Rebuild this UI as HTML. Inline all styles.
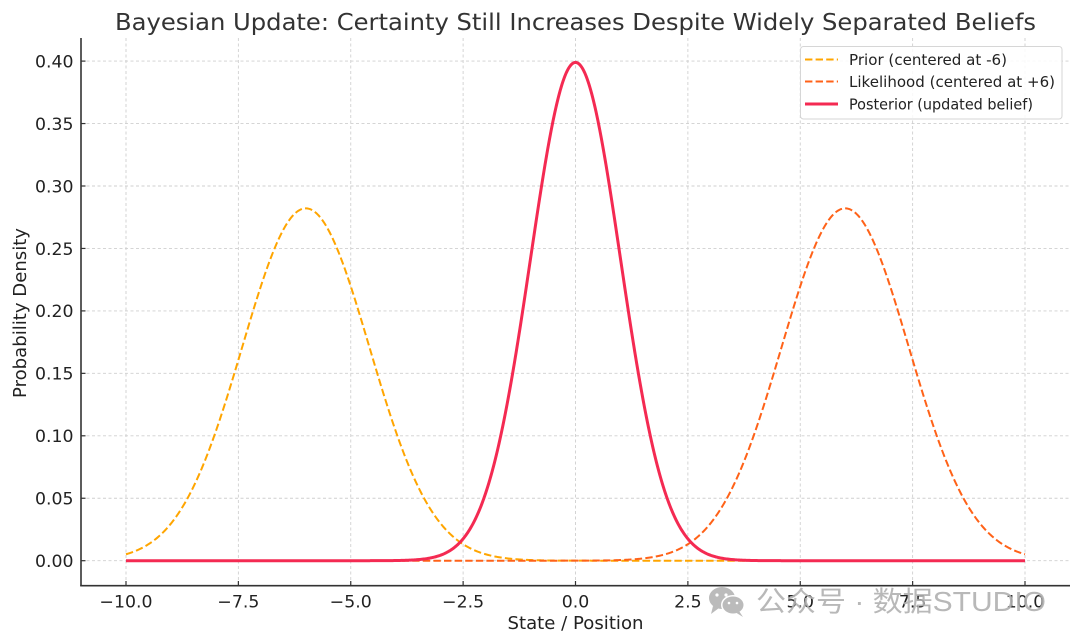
<!DOCTYPE html>
<html><head><meta charset="utf-8"><style>
html,body{margin:0;padding:0;background:#fff;}
svg{display:block;}
text{font-family:"DejaVu Sans","Liberation Sans","Noto Sans CJK SC",sans-serif;}
</style></head><body>
<svg id="s" width="1080" height="644" viewBox="0 0 1080 644" xmlns="http://www.w3.org/2000/svg">
<rect width="1080" height="644" fill="#fff"/>
<g id="grid" stroke="#cfcfcf" stroke-width="0.9" stroke-dasharray="3,2.5"></g>
<path id="prior" fill="none" stroke="#FFA500" stroke-width="2" stroke-dasharray="7.4,3.2"/>
<path id="like" fill="none" stroke="#FF6218" stroke-width="2" stroke-dasharray="7.4,3.2"/>
<path id="post" fill="none" stroke="#F42A52" stroke-width="3"/>
<g id="ticks" stroke="#333" stroke-width="1.2"></g>
<line x1="81" y1="38" x2="81" y2="586" stroke="#333" stroke-width="1.6"/>
<line x1="80.2" y1="585.7" x2="1070" y2="585.7" stroke="#333" stroke-width="1.6"/>
<g id="labels" font-size="17.3" fill="#222"></g>
<text x="575.5" y="30" font-size="23" fill="#333" text-anchor="middle" textLength="921" lengthAdjust="spacingAndGlyphs">Bayesian Update: Certainty Still Increases Despite Widely Separated Beliefs</text>
<text x="575.5" y="629" font-size="18" fill="#222" text-anchor="middle" textLength="136" lengthAdjust="spacingAndGlyphs">State / Position</text>
<text transform="translate(26,313) rotate(-90)" font-size="18" fill="#222" text-anchor="middle" textLength="170" lengthAdjust="spacingAndGlyphs">Probability Density</text>
<!-- legend -->
<rect x="800.5" y="46.5" width="261.5" height="72.5" rx="3" fill="#fff" fill-opacity="0.85" stroke="#d6d6d6" stroke-width="1"/>
<line x1="805" y1="59.5" x2="838" y2="59.5" stroke="#FFA500" stroke-width="2" stroke-dasharray="7.4,3.2"/>
<line x1="805" y1="81.5" x2="838" y2="81.5" stroke="#FF6218" stroke-width="2" stroke-dasharray="7.4,3.2"/>
<line x1="805" y1="104" x2="838" y2="104" stroke="#F42A52" stroke-width="3"/>
<text x="849" y="64.8" font-size="15" fill="#222" textLength="158" lengthAdjust="spacingAndGlyphs">Prior (centered at -6)</text>
<text x="849" y="87.2" font-size="15" fill="#222" textLength="206" lengthAdjust="spacingAndGlyphs">Likelihood (centered at +6)</text>
<text x="849" y="109.6" font-size="15" fill="#222" textLength="184" lengthAdjust="spacingAndGlyphs">Posterior (updated belief)</text>
<!-- watermark -->
<g fill="#b4b4b4" opacity="0.9">
<ellipse cx="722" cy="598" rx="13" ry="11"/>
<path d="M713 606 L711 614 L719 608 Z"/>
<ellipse cx="733" cy="605" rx="12" ry="10" fill="#fff"/>
<ellipse cx="733" cy="605" rx="10.5" ry="8.5"/>
<path d="M739 611 L743 617 L735 612 Z"/>
<circle cx="717" cy="595" r="1.6" fill="#fff"/>
<circle cx="726" cy="595" r="1.6" fill="#fff"/>
<circle cx="729" cy="603" r="1.3" fill="#fff"/>
<circle cx="737" cy="603" r="1.3" fill="#fff"/>
</g>
<text x="756" y="611" font-size="28" fill="#b0b0b0" fill-opacity="0.9" textLength="290" lengthAdjust="spacingAndGlyphs" style="font-family:'Liberation Sans','Noto Sans CJK SC',sans-serif">公众号 · 数据STUDIO</text>
</svg>
<script>
(function(){
var NS="http://www.w3.org/2000/svg";
function X(x){return 575.5+x*44.95;}
function Y(y){return 560.7-y*1249;}
function pdf(x,m,s){return Math.exp(-0.5*((x-m)/s)*((x-m)/s))/(s*Math.sqrt(2*Math.PI));}
function path(m,s){var d="";for(var i=0;i<=1000;i++){var x=-10+20*i/1000;d+=(i?"L":"M")+X(x).toFixed(2)+" "+Y(pdf(x,m,s)).toFixed(2);}return d;}
document.getElementById("prior").setAttribute("d",path(-6,Math.SQRT2));
document.getElementById("like").setAttribute("d",path(6,Math.SQRT2));
document.getElementById("post").setAttribute("d",path(0,1));
var g=document.getElementById("grid"),t=document.getElementById("ticks"),l=document.getElementById("labels");
function el(p,n,a,txt){var e=document.createElementNS(NS,n);for(var k in a)e.setAttribute(k,a[k]);if(txt!==undefined)e.textContent=txt;p.appendChild(e);return e;}
for(var i=0;i<9;i++){
 var v=-10+2.5*i,x=X(v);
 el(g,"line",{x1:x,y1:38,x2:x,y2:585});
 el(t,"line",{x1:x,y1:585.7,x2:x,y2:581});
 var s=v.toFixed(1).replace("-","\u2212");
 el(l,"text",{x:x,y:607.5,"text-anchor":"middle"},s);
}
for(var j=0;j<9;j++){
 var w=0.05*j,y=Y(w);
 el(g,"line",{x1:81,y1:y,x2:1070,y2:y});
 el(t,"line",{x1:81,y1:y,x2:85.5,y2:y});
 el(l,"text",{x:73.5,y:y+6.3,"text-anchor":"end"},w.toFixed(2));
}
})();
</script>
</body></html>
